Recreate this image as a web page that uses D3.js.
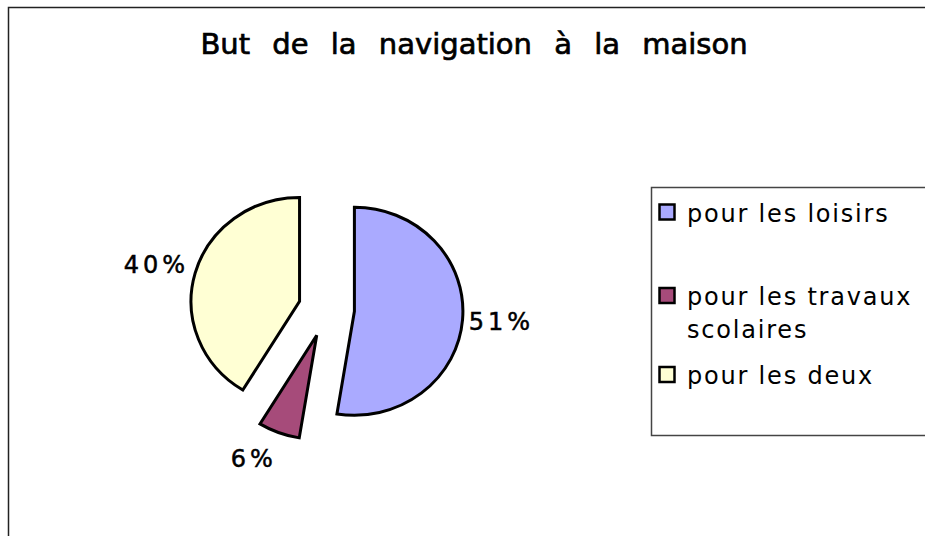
<!DOCTYPE html>
<html>
<head>
<meta charset="utf-8">
<script src="https://cdn.jsdelivr.net/npm/d3@7"></script>
<style>
  body { margin: 0; background: #fff; }
</style>
</head>
<body>
<div id="chart"></div>
<script>
// data
const categories = ["pour les loisirs", "pour les travaux scolaires", "pour les deux"];
const legendLines = [["pour les loisirs"], ["pour les travaux", "scolaires"], ["pour les deux"]];
const values = [51, 6, 40];
const colors = ["#aaaaff", "#a64b7a", "#ffffd4"];

const width = 925, height = 536;
const radius = 104,
    stretchX = 108.5 / 104,   // the pie is a bit wider than tall
    explode = 28,
    labelR = 110;

const svg = d3.select("#chart")
    .append("svg")
    .attr("width", width)
    .attr("height", height);

// outer frame (cut off on the right and bottom)
svg.append("rect")
    .attr("x", 8.5).attr("y", 7.5)
    .attr("width", 1000).attr("height", 600)
    .attr("fill", "none")
    .attr("stroke", "#222")
    .attr("stroke-width", 1.5);

// title
svg.append("text")
    .attr("x", 474)
    .attr("y", 54)
    .attr("text-anchor", "middle")
    .style("font-family", "DejaVu Sans, Verdana, sans-serif")
    .style("font-size", "29px")
    .style("word-spacing", "13px")
    .attr("stroke", "#000")
    .attr("stroke-width", 0.7)
    .text("But de la navigation à la maison");

// pie
const pie = d3.pie().sort(null).value(d => d);
const arcs = pie(values);
const arc = d3.arc().innerRadius(0).outerRadius(radius);

const cx = 326.5, cy = 309;
const g = svg.append("g")
    .attr("transform", `translate(${cx},${cy})`);

function dir(d) {
    const a = (d.startAngle + d.endAngle) / 2;
    return [Math.sin(a), -Math.cos(a)];
}

const slices = g.selectAll("g.slice")
    .data(arcs)
    .join("g")
    .attr("class", "slice")
    .attr("transform", d => {
        const [ux, uy] = dir(d);
        return `translate(${ux * explode},${uy * explode})`;
    });

slices.append("path")
    .attr("d", arc)
    .attr("transform", `scale(${stretchX},1)`)
    .attr("fill", (d, i) => colors[i])
    .attr("stroke", "#000")
    .attr("stroke-width", 3)
    .attr("vector-effect", "non-scaling-stroke");

// percentage labels, box pushed outward from the anchor point
slices.append("text")
    .attr("text-anchor", "middle")
    .attr("dominant-baseline", "central")
    .style("font-family", "DejaVu Sans, Verdana, sans-serif")
    .style("font-size", "24px")
    .style("letter-spacing", "4px")
    .attr("stroke", "#000")
    .attr("stroke-width", 0.5)
    .text(d => d.data + "%")
    .attr("transform", function (d) {
        const [ux, uy] = dir(d);
        const b = this.getBBox();
        const x = ux * labelR * stretchX + Math.sign(ux) * b.width / 2;
        const y = uy * labelR + uy * b.height * 0.8;
        return `translate(${x},${y})`;
    });

// legend
svg.append("rect")
    .attr("x", 651.5).attr("y", 187.5)
    .attr("width", 400).attr("height", 248)
    .attr("fill", "none")
    .attr("stroke", "#444")
    .attr("stroke-width", 1.5);

const legendY = [221.5, 305, 384];
const leg = svg.append("g")
    .selectAll("g")
    .data(categories)
    .join("g")
    .attr("transform", (d, i) => `translate(659,${legendY[i]})`);

leg.append("rect")
    .attr("x", 0.5).attr("y", -17)
    .attr("width", 15).attr("height", 15)
    .attr("fill", (d, i) => colors[i])
    .attr("stroke", "#000")
    .attr("stroke-width", 2.5);

leg.append("text")
    .style("font-family", "DejaVu Sans, Verdana, sans-serif")
    .style("font-size", "24px")
    .style("letter-spacing", "1.8px")
    .selectAll("tspan")
    .data((d, i) => legendLines[i])
    .join("tspan")
    .attr("x", 28)
    .attr("dy", (d, j) => j === 0 ? 0 : 33)
    .text(d => d);
</script>
</body>
</html>
